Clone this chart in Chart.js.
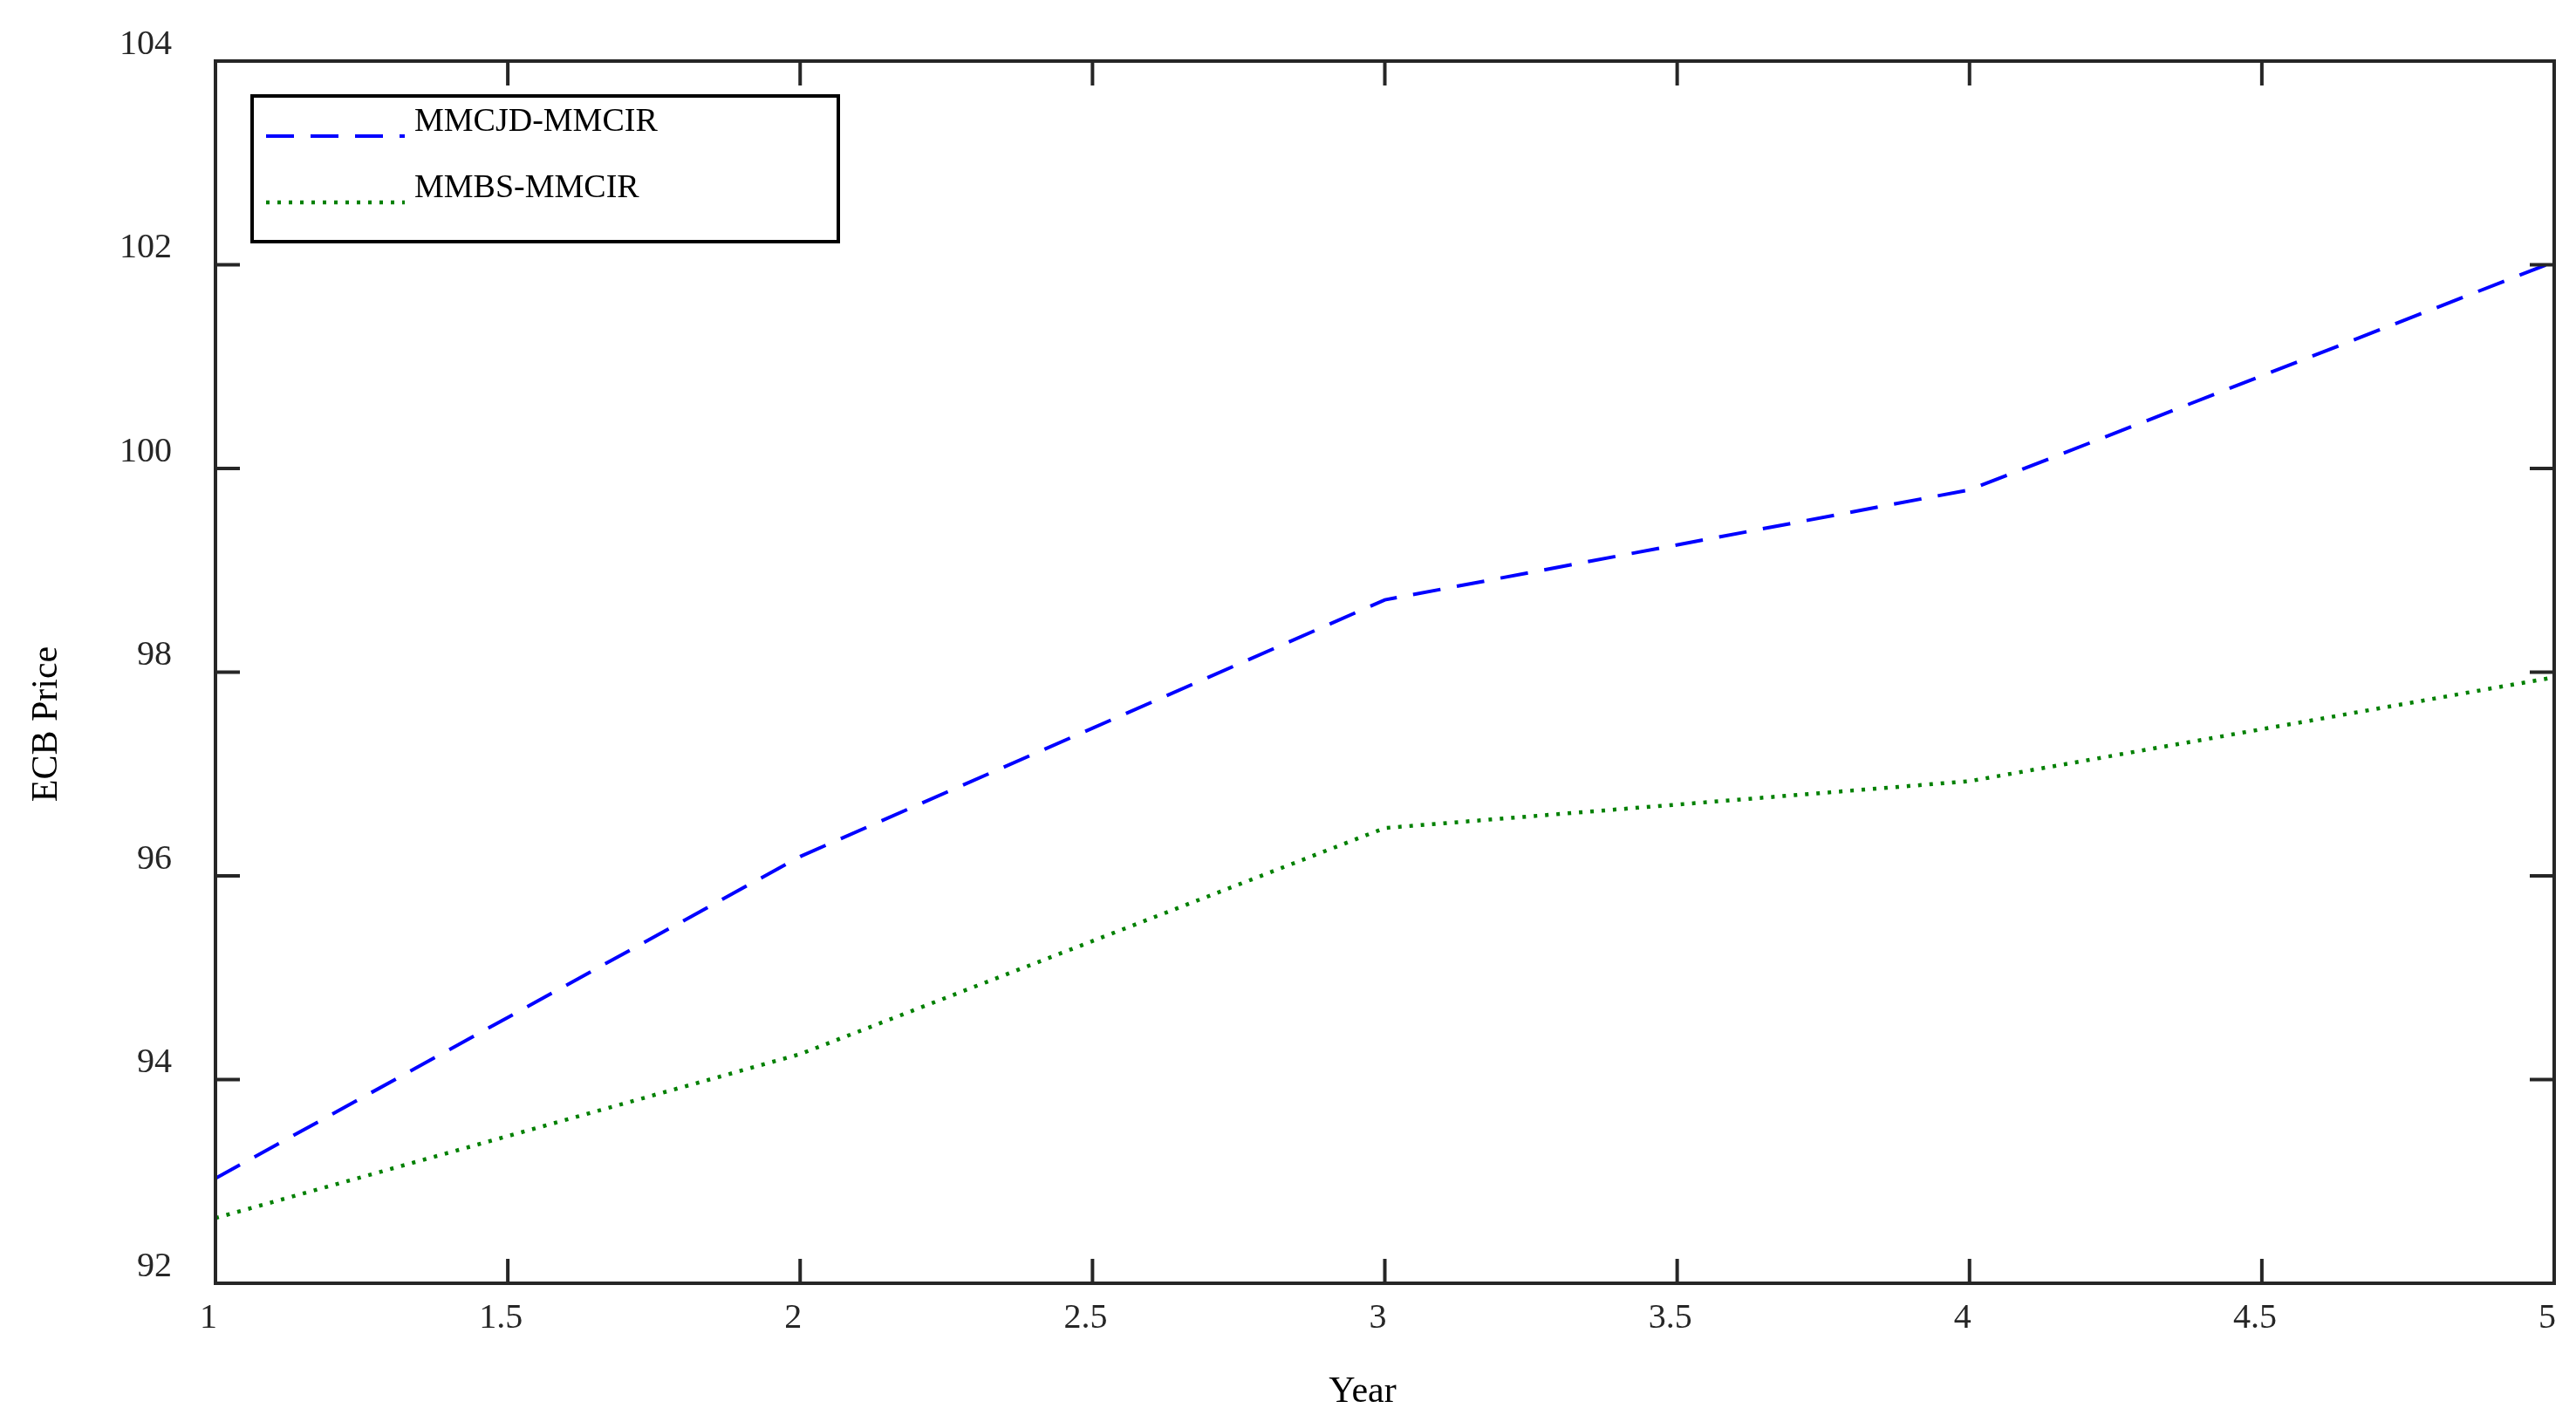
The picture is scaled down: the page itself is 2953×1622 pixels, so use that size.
<!DOCTYPE html>
<html>
<head>
<meta charset="utf-8">
<script src="https://cdn.jsdelivr.net/npm/chart.js@4/dist/chart.umd.min.js"></script>
<style>
  html, body { margin: 0; padding: 0; background: #fff; }
  canvas { display: block; }
</style>
</head>
<body>
<canvas id="ecbChart" width="2953" height="1622"></canvas>
<script>
// data
const years = [1, 2, 3, 4, 5];
const mmcjdMmcir = [93.03, 96.19, 98.71, 99.79, 102.03];
const mmbsMmcir = [92.64, 94.25, 96.47, 96.93, 97.95];
const seriesNames = ['MMCJD-MMCIR', 'MMBS-MMCIR'];
const xTickValues = [1, 1.5, 2, 2.5, 3, 3.5, 4, 4.5, 5];
const yTickValues = [92, 94, 96, 98, 100, 102, 104];

const AXIS_COLOR = '#262626';
const SERIF = '"Liberation Serif", "DejaVu Serif", serif';

// MATLAB style box with inward ticks on all four sides
const boxTicks = {
    id: 'boxTicks',
    afterDatasetsDraw(chart) {
        const { ctx, chartArea: a, scales } = chart;
        const len = 28;
        ctx.save();
        ctx.strokeStyle = AXIS_COLOR;
        ctx.lineWidth = 4;
        ctx.beginPath();
        scales.x.ticks.forEach(t => {
            const px = scales.x.getPixelForValue(t.value);
            ctx.moveTo(px, a.bottom); ctx.lineTo(px, a.bottom - len);
            ctx.moveTo(px, a.top); ctx.lineTo(px, a.top + len);
        });
        scales.y.ticks.forEach(t => {
            const py = scales.y.getPixelForValue(t.value);
            ctx.moveTo(a.left, py); ctx.lineTo(a.left + len, py);
            ctx.moveTo(a.right, py); ctx.lineTo(a.right - len, py);
        });
        ctx.stroke();
        ctx.strokeRect(a.left, a.top, a.right - a.left, a.bottom - a.top);
        ctx.restore();
    }
};

// axis titles and the boxed legend
const labelsAndLegend = {
    id: 'labelsAndLegend',
    afterDraw(chart) {
        const { ctx, chartArea: a } = chart;
        ctx.save();
        ctx.fillStyle = '#000';
        ctx.font = '42px ' + SERIF;
        ctx.textAlign = 'center';
        ctx.textBaseline = 'alphabetic';
        ctx.fillText('Year', 1562, 1607);
        ctx.save();
        ctx.translate(65, 830);
        ctx.rotate(-Math.PI / 2);
        ctx.fillText('ECB Price', 0, 0);
        ctx.restore();

        // legend box
        const bx = a.left + 42, by = a.top + 40, bw = 672, bh = 167;
        ctx.fillStyle = '#fff';
        ctx.fillRect(bx, by, bw, bh);
        ctx.strokeStyle = '#000';
        ctx.lineWidth = 4;
        ctx.strokeRect(bx, by, bw, bh);

        ctx.font = '38px ' + SERIF;
        ctx.textAlign = 'left';
        chart.data.datasets.forEach((ds, i) => {
            const ly = by + 46 + i * 76;
            ctx.strokeStyle = ds.borderColor;
            ctx.lineWidth = ds.borderWidth;
            ctx.setLineDash(ds.borderDash);
            ctx.beginPath();
            ctx.moveTo(bx + 16, ly);
            ctx.lineTo(bx + 175, ly);
            ctx.stroke();
            ctx.setLineDash([]);
            ctx.fillStyle = '#000';
            ctx.fillText(ds.label, bx + 186, ly - 6);
        });
        ctx.restore();
    }
};

new Chart(document.getElementById('ecbChart').getContext('2d'), {
    type: 'line',
    data: {
        datasets: [{
            label: seriesNames[0],
            data: years.map((x, i) => ({ x: x, y: mmcjdMmcir[i] })),
            borderColor: '#0000FF',
            borderWidth: 4,
            borderDash: [32, 19],
            pointRadius: 0,
            tension: 0,
            fill: false
        }, {
            label: seriesNames[1],
            data: years.map((x, i) => ({ x: x, y: mmbsMmcir[i] })),
            borderColor: '#008000',
            borderWidth: 4.5,
            borderDash: [4, 9],
            pointRadius: 0,
            tension: 0,
            fill: false
        }]
    },
    options: {
        responsive: false,
        animation: false,
        devicePixelRatio: 1,
        layout: { padding: { left: 0, top: 70, right: 25, bottom: 0 } },
        plugins: {
            legend: { display: false },
            tooltip: { enabled: false }
        },
        scales: {
            x: {
                type: 'linear',
                min: xTickValues[0],
                max: xTickValues[xTickValues.length - 1],
                afterBuildTicks: s => { s.ticks = xTickValues.map(v => ({ value: v })); },
                afterFit: s => { s.height = 151; s.paddingLeft = 0; s.paddingRight = 0; },
                grid: { display: false, drawTicks: false },
                border: { display: false },
                ticks: {
                    color: AXIS_COLOR,
                    font: { family: SERIF, size: 40 },
                    padding: 16,
                    labelOffset: -8,
                    maxRotation: 0,
                    autoSkip: false,
                    callback: v => String(v)
                }
            },
            y: {
                type: 'linear',
                min: yTickValues[0],
                max: yTickValues[yTickValues.length - 1],
                afterBuildTicks: s => { s.ticks = yTickValues.map(v => ({ value: v })); },
                afterFit: s => { s.width = 247; s.paddingTop = 0; s.paddingBottom = 0; },
                grid: { display: false, drawTicks: false },
                border: { display: false },
                ticks: {
                    color: AXIS_COLOR,
                    font: { family: SERIF, size: 40 },
                    padding: 50,
                    labelOffset: -19,
                    autoSkip: false,
                    callback: v => String(v)
                }
            }
        }
    },
    plugins: [boxTicks, labelsAndLegend]
});
</script>
</body>
</html>
